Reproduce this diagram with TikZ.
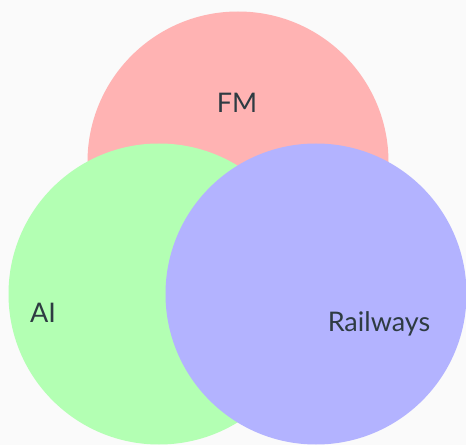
\documentclass[tikz,border=0pt]{standalone}
\usepackage{fontspec}
\setmainfont{Lato}
\begin{document}
\begin{tikzpicture}[x=1pt,y=1pt,
  setcirc/.style={circle,minimum size=301pt,inner sep=0pt,draw=none},
  lbl/.style={text=txt,font=\fontsize{27}{32}\selectfont,inner sep=0pt}]
\definecolor{bg}{HTML}{FAFAFA}
\definecolor{cfm}{HTML}{FFB3B3}
\definecolor{cai}{HTML}{B3FFB3}
\definecolor{crw}{HTML}{B3B3FF}
\definecolor{txt}{HTML}{2E3B42}
\fill[bg] (0,0) rectangle (466,445);
\useasboundingbox (0,0) rectangle (466,445);
\node[setcirc,fill=cfm] (fm) at (238,283) {};
\node[setcirc,fill=cai] (ai) at (159,151) {};
\node[setcirc,fill=crw] (rw) at (316,151) {};
\node[lbl] (fmt) at (237,342) {FM};
\node[lbl] (ait) at (43,132) {AI};
\node[lbl] (rwt) at (379,121) {Railways};
\end{tikzpicture}
\end{document}
